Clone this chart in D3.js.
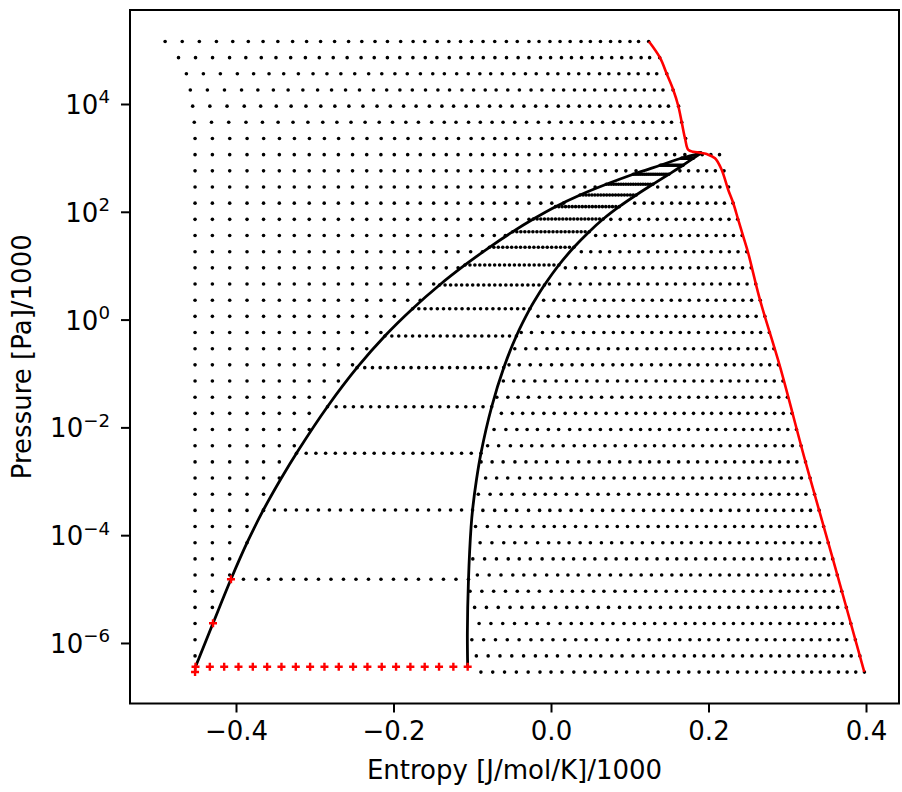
<!DOCTYPE html>
<html><head><meta charset="utf-8">
<script src="https://cdn.jsdelivr.net/npm/d3@7"></script>
<style>
html,body{margin:0;padding:0;background:#fff;}
svg{display:block;font-family:"DejaVu Sans",sans-serif;}
</style></head><body>
<svg id="chart" width="902" height="792"></svg>
<script>
// ---------- data (entropy in [J/mol/K]/1000, pressure as log10 of [Pa]/1000) ----------
const rowLogP = [-6.54,-6.24,-5.94,-5.64,-5.34,-5.04,-4.74,-4.44,-4.14,-3.84,-3.54,-3.24,-2.94,-2.64,-2.34,-2.04,-1.74,-1.44,-1.14,-0.84,-0.54,-0.24,0.06,0.36,0.66,0.96,1.26,1.56,1.86,2.16,2.46,2.76,3.06,3.36,3.66,3.96,4.26,4.56,4.86,5.16];
// liquid-side entropy of each grid temperature
const liquidS = [-0.452,-0.430,-0.408,-0.386,-0.365,-0.345,-0.326,-0.307,-0.288,-0.270,-0.252,-0.234,-0.216,-0.199,-0.182,-0.166,-0.149,-0.133,-0.118,-0.102,-0.087,-0.072,-0.058,-0.043,-0.028,-0.013,0.001,0.016,0.029,0.043,0.056,0.069,0.083,0.095,0.108,0.121,0.133,0.146,0.157,0.170];
// vapour entropy of each grid temperature on the lowest pressure row
const vaporS0 = [-0.106,-0.089,-0.074,-0.059,-0.044,-0.029,-0.014,0.000,0.014,0.029,0.043,0.056,0.069,0.083,0.096,0.110,0.123,0.136,0.149,0.162,0.175,0.188,0.200,0.212,0.224,0.237,0.249,0.261,0.273,0.285,0.296,0.308,0.320,0.331,0.342,0.353,0.365,0.376,0.387,0.398];
// entropy offset of the vapour points on each sub-critical row (row 0 = lowest)
const vaporRowShift = [0,0.0058,0.0115,0.0173,0.0230,0.0288,0.0345,0.0403,0.0460,0.0518,0.0575,0.0633,0.0690,0.0748,0.0805,0.0863,0.0920,0.0978,0.1035,0.1093,0.1150,0.1208,0.1265,0.1323,0.1380,0.1438,0.1495,0.1553,0.1610,0.1668,0.1725,0.1783,0.1840];
// first / last entropy of the supercritical rows (rows 33..39)
const superRowStart = [-0.452,-0.453,-0.455,-0.458,-0.463,-0.473,-0.490];
const superRowEnd   = [0.171,0.166,0.162,0.155,0.147,0.138,0.124];
// saturation curves [entropy, log10 P]
const satLiquid = [[-0.4514,-6.440],[-0.4292,-5.635],[-0.4064,-4.818],[-0.3855,-4.126],[-0.3652,-3.532],[-0.3431,-2.957],[-0.3206,-2.419],[-0.2837,-1.612],[-0.2453,-0.874],[-0.2104,-0.295],[-0.1758,0.202],[-0.1415,0.642],[-0.1092,1.013],[-0.0782,1.341],[-0.0485,1.631],[-0.0224,1.866],[0.0057,2.095],[0.0370,2.312],[0.0702,2.510],[0.1045,2.696],[0.1388,2.863],[0.1655,2.993],[0.1914,3.095]];
const satVapor = [[-0.1058,-6.440],[-0.1062,-5.814],[-0.1048,-4.831],[-0.1015,-3.848],[-0.0992,-3.477],[-0.0947,-2.976],[-0.0889,-2.475],[-0.0754,-1.622],[-0.0599,-0.889],[-0.0437,-0.295],[-0.0267,0.202],[-0.0203,0.364],[-0.0083,0.642],[0.0100,1.013],[0.0291,1.341],[0.0485,1.631],[0.0663,1.866],[0.0866,2.095],[0.1082,2.312],[0.1293,2.510],[0.1496,2.696],[0.1676,2.863],[0.1806,2.993],[0.1914,3.095]];
// two-phase tie lines [log10 P, s liquid, s vapour, failed]
const tieLines = [[-6.440,-0.4514,-0.1058,true],[-4.818,-0.4064,-0.1048,false],[-3.532,-0.3652,-0.0996,false],[-2.480,-0.3232,-0.0889,false],[-1.616,-0.2838,-0.0753,false],[-0.892,-0.2463,-0.0601,false],[-0.304,-0.2109,-0.0439,false],[0.202,-0.1757,-0.0267,false],[0.642,-0.1415,-0.0083,false],[1.013,-0.1092,0.0100,false],[1.341,-0.0782,0.0291,false],[1.631,-0.0485,0.0485,false],[1.866,-0.0223,0.0663,false],[2.095,0.0057,0.0866,false],[2.312,0.0370,0.1082,false],[2.510,0.0702,0.1293,false],[2.696,0.1045,0.1496,false],[2.863,0.1388,0.1676,false],[2.993,0.1655,0.1806,false],[3.085,0.186,0.1905,false]];
const tiePointsPerLine = 20;
// other failed points [entropy, log10 P]
const failedPoints = [[-0.452,-6.538],[-0.4292,-5.635],[-0.4064,-4.818]];
// highest-temperature isotherm [entropy, log10 P]
const redIsotherm = [[0.1244,5.160],[0.1384,4.859],[0.1469,4.560],[0.1553,4.260],[0.1617,3.959],[0.1660,3.660],[0.1702,3.360],[0.1744,3.147],[0.1807,3.115],[0.1892,3.097],[0.1977,3.072],[0.2083,2.993],[0.2168,2.776],[0.2251,2.404],[0.2315,2.158],[0.2378,1.848],[0.2442,1.538],[0.2505,1.230],[0.2654,0.364],[0.2908,-0.874],[0.3225,-2.605],[0.3577,-4.429],[0.3978,-6.538]];
const xTicks = [-0.4,-0.2,0.0,0.2,0.4];
const yTickExps = [-6,-4,-2,0,2,4];
const xLabel = "Entropy [J/mol/K]/1000";
const yLabel = "Pressure [Pa]/1000";

// ---------- layout ----------
const svg = d3.select("#chart");
svg.append("rect").attr("width",902).attr("height",792).attr("fill","#fff");
const L = 130, R = 899, T = 10, B = 703.5;
const FS = 26;
const x = d3.scaleLinear().domain([-0.5346, 0.4419]).range([L, R]);
const y = d3.scaleLog().domain([Math.pow(10,-7.123), Math.pow(10,5.744)]).range([B, T]);
const P = lp => Math.pow(10, lp);

function interpS(curve, lp){
  if (lp <= curve[0][1]) return curve[0][0];
  for (let k=1;k<curve.length;k++){
    if (lp <= curve[k][1]){
      const a=curve[k-1], b=curve[k];
      return a[0] + (lp-a[1])/(b[1]-a[1])*(b[0]-a[0]);
    }
  }
  return curve[curve.length-1][0];
}

// grid points
const tol = 0.0013;
const dots = [];
rowLogP.forEach((lp, r) => {
  if (r < vaporRowShift.length) {
    const sL = interpS(satLiquid, lp), sV = interpS(satVapor, lp);
    if (r > 0) liquidS.forEach(s => { if (s <= sL + tol) dots.push([s, lp]); });
    vaporS0.forEach(s0 => { const s = s0 - vaporRowShift[r]; if (s > sV + tol) dots.push([s, lp]); });
  } else {
    const k = r - vaporRowShift.length;
    const a = superRowStart[k], b = superRowEnd[k];
    const s0 = liquidS[0], s1 = liquidS[liquidS.length-1];
    liquidS.forEach(s => dots.push([a + (s - s0)/(s1 - s0)*(b - a), lp]));
  }
});
const tieDots = [], tieFailed = [];
tieLines.forEach(([lp, sL, sV, failed]) => {
  for (let j=0;j<tiePointsPerLine;j++){
    const s = sL + j/(tiePointsPerLine-1)*(sV - sL);
    (failed ? tieFailed : tieDots).push([s, lp]);
  }
});

const plot = svg.append("g");
plot.selectAll("circle.g").data(dots.concat(tieDots)).join("circle")
  .attr("cx", d => x(d[0])).attr("cy", d => y(P(d[1]))).attr("r", 1.8).attr("fill", "#000");

const line = d3.line().x(d => x(d[0])).y(d => y(P(d[1]))).curve(d3.curveCatmullRom.alpha(0.5));
plot.append("path").attr("d", line(satLiquid)).attr("fill","none").attr("stroke","#000").attr("stroke-width",2.8);
plot.append("path").attr("d", line(satVapor)).attr("fill","none").attr("stroke","#000").attr("stroke-width",2.8);
plot.append("path").attr("d", line(redIsotherm)).attr("fill","none").attr("stroke","#ff0000").attr("stroke-width",2.6);

const plusPath = "M-4,0H4M0,-4V4";
plot.selectAll("path.plus").data(tieFailed.concat(failedPoints)).join("path")
  .attr("class","plus").attr("d", plusPath)
  .attr("transform", d => `translate(${x(d[0])},${y(P(d[1]))})`)
  .attr("stroke","#ff0000").attr("stroke-width",2.4).attr("fill","none");

// frame
svg.append("rect").attr("x",L).attr("y",T).attr("width",R-L).attr("height",B-T)
  .attr("fill","none").attr("stroke","#000").attr("stroke-width",2);

// x axis
const xAxis = svg.append("g").attr("transform",`translate(0,${B})`)
  .call(d3.axisBottom(x).tickValues(xTicks).tickFormat(d3.format(".1f")).tickSize(9).tickPadding(9).tickSizeOuter(0));
xAxis.select(".domain").remove();
xAxis.selectAll(".tick line").attr("stroke","#000").attr("stroke-width",2);
xAxis.selectAll(".tick text").attr("font-size",FS).attr("font-family","DejaVu Sans").attr("fill","#000");

// y axis
const yAxis = svg.append("g").attr("transform",`translate(${L},0)`)
  .call(d3.axisLeft(y).tickValues(yTickExps.map(e => Math.pow(10,e))).tickFormat("").tickSize(9).tickSizeOuter(0));
yAxis.select(".domain").remove();
yAxis.selectAll(".tick line").attr("stroke","#000").attr("stroke-width",2);
yAxis.selectAll(".tick text").each(function(d){
  const t = d3.select(this);
  const e = Math.round(Math.log10(d));
  t.attr("x",-20).attr("dy",null).attr("y",9.5).attr("font-size",FS).attr("font-family","DejaVu Sans").attr("fill","#000").attr("text-anchor","end");
  t.text(null);
  t.append("tspan").text("10");
  t.append("tspan").attr("dy",-10.5).attr("font-size",FS*0.7).text(e < 0 ? "\u2212" + Math.abs(e) : String(e));
});

// axis labels
svg.append("text").attr("x",(L+R)/2).attr("y",779).attr("text-anchor","middle")
  .attr("font-size",FS).attr("fill","#000").text(xLabel);
svg.append("text").attr("transform",`translate(31,${(T+B)/2}) rotate(-90)`).attr("text-anchor","middle")
  .attr("font-size",FS).attr("fill","#000").text(yLabel);
</script>
</body></html>
